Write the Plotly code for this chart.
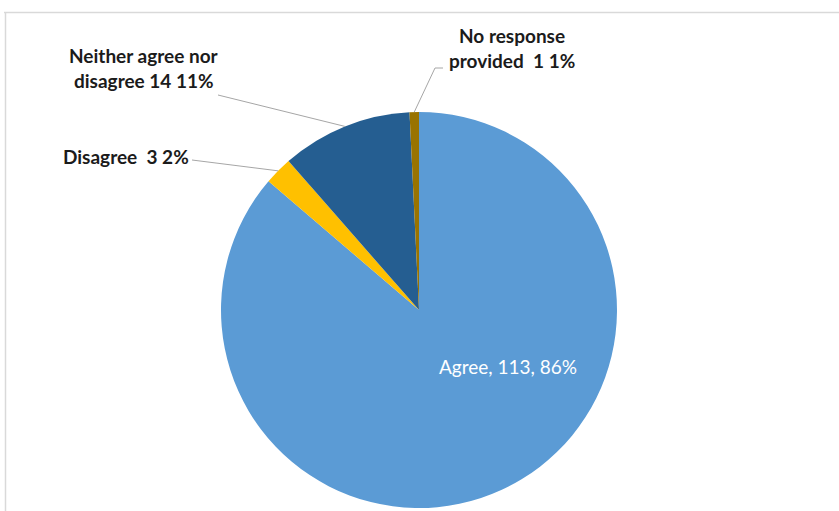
import math
import plotly.graph_objects as go

# Survey responses
categories = ["Agree", "Disagree", "Neither agree nor disagree", "No response provided"]
counts = [113, 3, 14, 1]
percents = [86, 2, 11, 1]
colors = ["#5B9BD5", "#FFC000", "#255E91", "#997300"]

W, H = 839, 511
CX, CY, R = 419, 310, 198  # pie centre and radius in pixels

fig = go.Figure(go.Pie(
    labels=categories,
    values=counts,
    sort=False,
    direction="clockwise",
    rotation=0,
    marker=dict(colors=colors, line=dict(width=0)),
    textinfo="none",
    hoverinfo="label+value+percent",
    showlegend=False,
    domain=dict(x=[(CX - R) / W, (CX + R) / W], y=[(H - CY - R) / H, (H - CY + R) / H]),
))


def px(x):
    return x / W


def py(y):
    return 1 - y / H


# angle (degrees clockwise from 12 o'clock) at the middle of each slice
total = sum(counts)
mids = []
acc = 0
for c in counts:
    mids.append((acc + c / 2) / total * 360)
    acc += c


def edge_point(i):
    a = math.radians(mids[i])
    return CX + R * math.sin(a), CY - R * math.cos(a)


font_dark = dict(family="Lato, 'Open Sans', sans-serif", size=19, color="#1b1b1b")
font_white = dict(family="Lato, 'Open Sans', sans-serif", size=19, color="#ffffff")

annotations = []


def add_text(txt, x, y, font, bold=True):
    annotations.append(dict(
        text=f"<b>{txt}</b>" if bold else txt,
        x=px(x), y=py(y), xref="paper", yref="paper",
        xanchor="center", yanchor="middle", showarrow=False, font=font,
    ))


add_text("Neither agree nor", 144, 55, font_dark)
add_text("disagree 14 11%", 144, 80, font_dark)
add_text("Disagree  3 2%", 126, 157, font_dark)
add_text("No response", 512, 35, font_dark)
add_text("provided  1 1%", 512, 60, font_dark)
add_text("Agree, 113, 86%", 508, 366, font_white, bold=False)

shapes = []
line_style = dict(color="#a6a6a6", width=1)


def seg(x0, y0, x1, y1, style):
    shapes.append(dict(type="line", xref="paper", yref="paper",
                       x0=px(x0), y0=py(y0), x1=px(x1), y1=py(y1), line=style))


# leader lines from labels to their slices
ex, ey = edge_point(1)
seg(192, 160, ex, ey, line_style)
ex, ey = edge_point(2)
seg(218, 95, ex, ey, line_style)
ex, ey = edge_point(3)
seg(443, 68, 435, 68, line_style)
seg(435, 68, ex, ey, line_style)

# chart area frame (top and left edges)
frame = dict(color="#d9d9d9", width=1.5)
seg(4, 12.5, 839, 12.5, frame)
seg(5.5, 12.5, 5.5, 511, frame)

fig.update_layout(
    width=W, height=H,
    margin=dict(l=0, r=0, t=0, b=0),
    paper_bgcolor="#ffffff",
    plot_bgcolor="#ffffff",
    annotations=annotations,
    shapes=shapes,
)

fig.write_html("out.html")
